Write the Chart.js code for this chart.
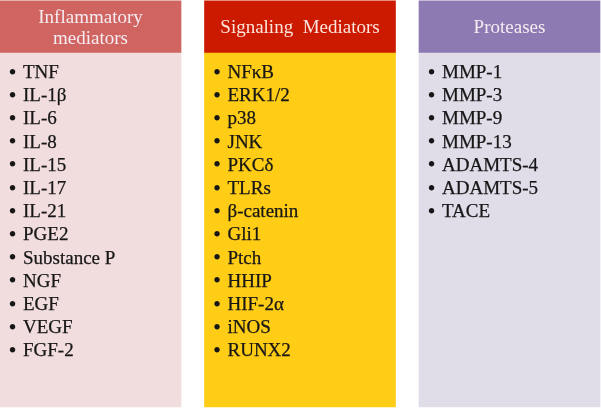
<!DOCTYPE html>
<html>
<head>
<meta charset="utf-8">
<script src="https://cdn.jsdelivr.net/npm/chart.js@4.4.1/dist/chart.umd.min.js"></script>
<style>
  html, body { margin: 0; padding: 0; background: #fff; }
  canvas { display: block; }
</style>
</head>
<body>
<canvas id="chart" width="601" height="409"></canvas>
<script>
const columns = ['Inflammatory mediators', 'Signaling Mediators', 'Proteases'];
const headerLines = [['Inflammatory', 'mediators'], ['Signaling  Mediators'], ['Proteases']];

const inflammatory = ['TNF', 'IL-1β', 'IL-6', 'IL-8', 'IL-15', 'IL-17', 'IL-21', 'PGE2',
  'Substance P', 'NGF', 'EGF', 'VEGF', 'FGF-2'];
const signaling = ['NFκB', 'ERK1/2', 'p38', 'JNK', 'PKCδ', 'TLRs', 'β-catenin', 'Gli1',
  'Ptch', 'HHIP', 'HIF-2α', 'iNOS', 'RUNX2'];
const proteases = ['MMP-1', 'MMP-3', 'MMP-9', 'MMP-13', 'ADAMTS-4', 'ADAMTS-5', 'TACE'];
const itemLists = [inflammatory, signaling, proteases];

// layout, in row units on the y scale (row i of a list sits at y = i)
const ROW_PX = 23.2;
const Y_MIN = -3.08;
const Y_MAX = Y_MIN + 409 / ROW_PX;
const HEADER = [-3.04, -0.82];
const BODY = [-0.82, 14.46];

const headerColors = ['#cf6461', '#cc1a00', '#8d7ab3'];
const bodyColors = ['#f1dcde', '#ffcc16', '#e0dde9'];
const boxWidth = [181, 191, 181];
const FONT = '"Liberation Serif", serif';

const only = (idxs, val) => columns.map((_, i) => idxs.includes(i) ? val : null);

function heavyText(ctx, s, x, y) {
  ctx.strokeText(s, x, y);
  ctx.fillText(s, x, y);
}

const listText = {
  id: 'listText',
  afterDatasetsDraw(chart) {
    const { ctx, scales: { x, y } } = chart;
    ctx.save();
    ctx.lineWidth = 0.25;
    ctx.lineJoin = 'round';
    columns.forEach((c, i) => {
      const cx = x.getPixelForValue(i);
      const left = cx - boxWidth[i] / 2;
      // header
      const lines = headerLines[i];
      const hMid = (y.getPixelForValue(HEADER[0]) + y.getPixelForValue(HEADER[1])) / 2;
      ctx.font = '19px ' + FONT;
      ctx.fillStyle = i === 1 ? '#fde4dc' : '#f6ecf2';
      ctx.textAlign = 'center';
      ctx.textBaseline = 'middle';
      lines.forEach((ln, k) => {
        ctx.fillText(ln, cx, hMid + 1.8 + (k - (lines.length - 1) / 2) * 20.5);
      });
      // items
      ctx.fillStyle = ctx.strokeStyle = '#161616';
      ctx.textAlign = 'left';
      itemLists[i].forEach((item, j) => {
        const py = y.getPixelForValue(j) + 1.5;
        ctx.font = '23px ' + FONT;
        ctx.fillText('•', left + 8.5, py + 0.5);
        ctx.font = '19px ' + FONT;
        heavyText(ctx, item, left + 23, py);
      });
    });
    ctx.restore();
  }
};

new Chart(document.getElementById('chart'), {
  type: 'bar',
  data: {
    labels: columns,
    datasets: [
      { data: only([0, 2], HEADER), backgroundColor: headerColors, barThickness: 181 },
      { data: only([1], HEADER), backgroundColor: headerColors, barThickness: 191 },
      { data: only([0, 2], BODY), backgroundColor: bodyColors, barThickness: 181 },
      { data: only([1], BODY), backgroundColor: bodyColors, barThickness: 191 }
    ].map(d => ({ ...d, grouped: false, borderWidth: 0, clip: false }))
  },
  options: {
    responsive: false,
    animation: false,
    layout: { padding: { left: 90.5, right: 91.5, top: 0, bottom: 0 } },
    scales: {
      x: { type: 'category', offset: false, display: false },
      y: { type: 'linear', min: Y_MIN, max: Y_MAX, reverse: true, display: false }
    },
    plugins: { legend: { display: false }, tooltip: { enabled: false } }
  },
  plugins: [listText]
});
</script>
</body>
</html>
